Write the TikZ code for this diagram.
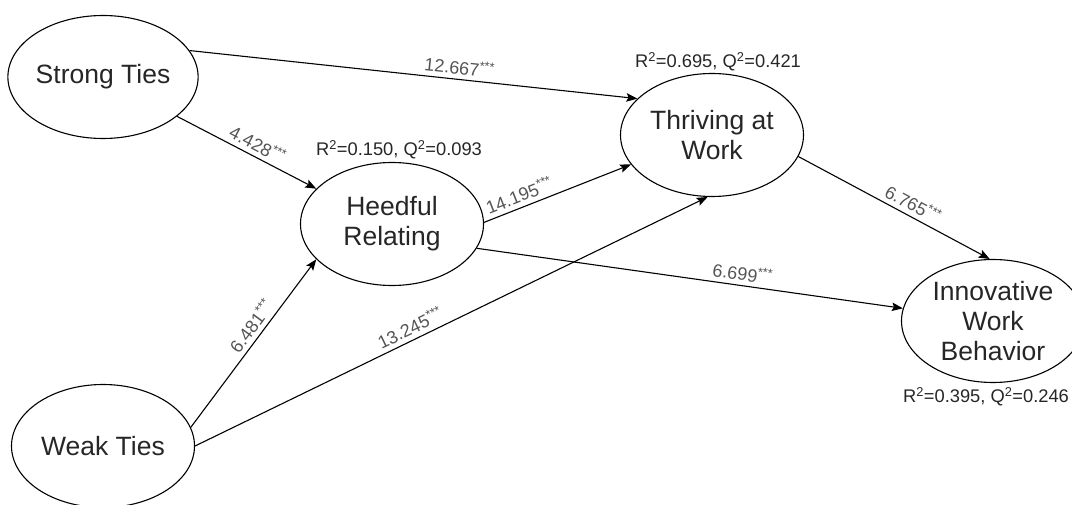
\documentclass[tikz,border=0pt]{standalone}
\usepackage{fontspec}
\setmainfont{Liberation Sans}
\usepackage{tikz}
\usetikzlibrary{shapes.geometric, arrows.meta}
\definecolor{ink}{RGB}{38, 38, 38}
\definecolor{coefgray}{RGB}{85, 85, 85}

\begin{document}
\begin{tikzpicture}[x=1pt, y=-1pt, line width=1.1pt,
  construct/.style={ellipse, draw, minimum width=183pt, minimum height=123pt,
    inner xsep=0pt, inner ysep=-2pt, align=center, text=ink,
    font=\fontsize{26.5}{30}\selectfont},
  link/.style={-{Stealth[length=11pt, width=8.5pt, inset=2pt]}},
  coef/.style={sloped, above, inner sep=4.5pt, text=coefgray,
    font=\fontsize{18}{20}\selectfont},
  stat/.style={text=ink, font=\fontsize{18.3}{20}\selectfont}]

  \useasboundingbox (0, 0) rectangle (1072, 505);

  % constructs
  \node[construct] (strong) at (103, 77) {Strong Ties};
  \node[construct] (weak) at (103, 446) {Weak Ties};
  \node[construct] (heedful) at (392, 224) {Heedful\\Relating};
  \node[construct] (thriving) at (712, 135) {Thriving at\\Work};
  \node[construct] (innov) at (993, 321) {Innovative\\Work\\Behavior};

  % explained variance
  \node[stat] (statheed) at (399, 150)
    {R\textsuperscript{2}=0.150, Q\textsuperscript{2}=0.093};
  \node[stat] (statthriv) at (718, 62)
    {R\textsuperscript{2}=0.695, Q\textsuperscript{2}=0.421};
  \node[stat] (statinnov) at (986, 397)
    {R\textsuperscript{2}=0.395, Q\textsuperscript{2}=0.246};

  % paths
  \draw[link] (strong.17) -- node[coef, pos=0.6] {12.667\textsuperscript{***}} (thriving.154);
  \draw[link] (strong.-28) -- node[coef, pos=0.54] {4.428\textsuperscript{***}} (heedful.155);
  \draw[link] (weak.12) -- node[coef, pos=0.56] {6.481\textsuperscript{***}} (heedful.-155);
  \draw[link] (weak.0) -- node[coef, pos=0.43] {13.245\textsuperscript{***}} (thriving.-94);
  \draw[link] (heedful.1) -- node[coef, pos=0.27] {14.195\textsuperscript{***}} (thriving.-160);
  \draw[link] (heedful.-16) -- node[coef, pos=0.62] {6.699\textsuperscript{***}} (innov.172);
  \draw[link] (thriving.-14) -- node[coef, pos=0.57] {6.765\textsuperscript{***}} (innov.93);

\end{tikzpicture}
\end{document}
